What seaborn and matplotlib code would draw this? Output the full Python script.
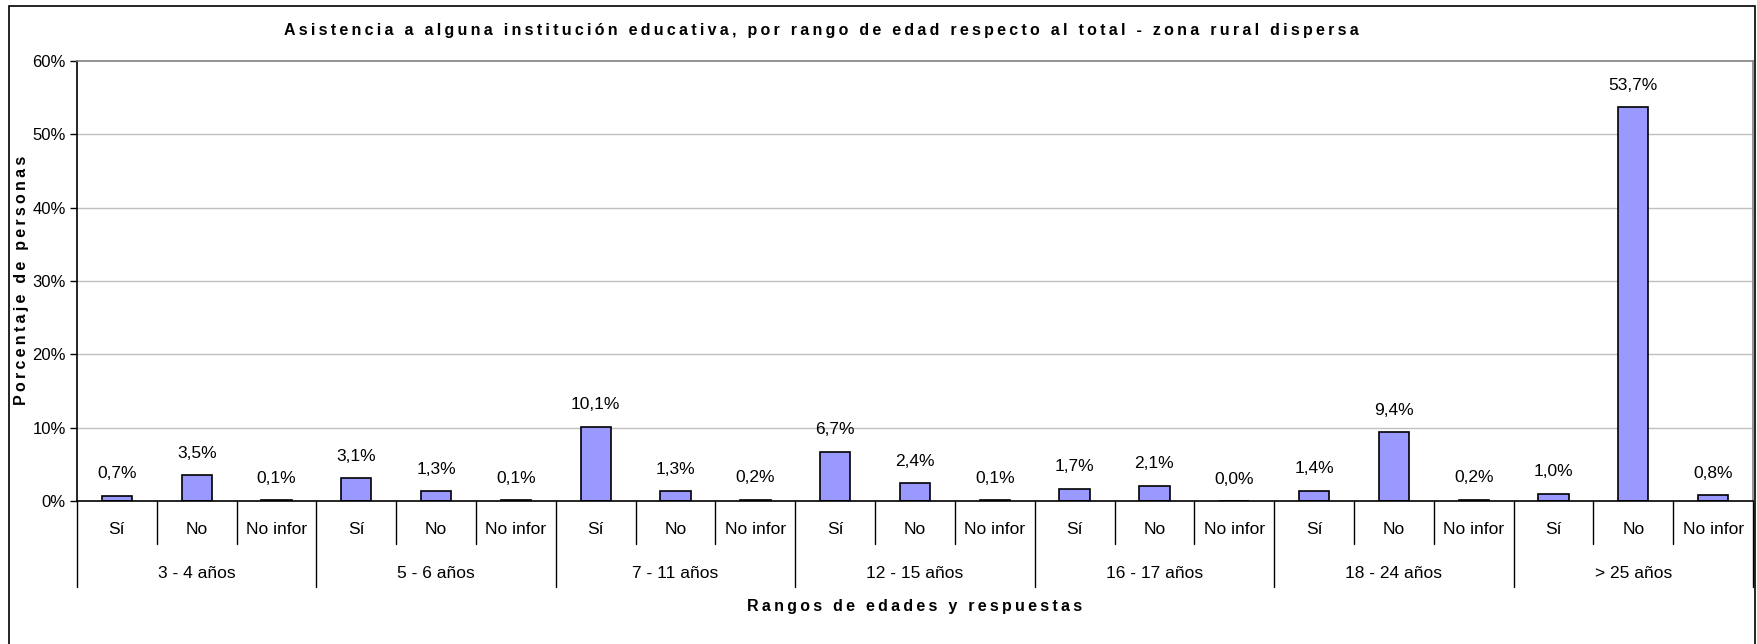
import matplotlib
matplotlib.use("Agg")
import matplotlib.pyplot as plt
import matplotlib.transforms as mtransforms
from matplotlib.patches import Rectangle
from matplotlib.ticker import FuncFormatter
import seaborn as sns
import pandas as pd

# data
groups = ["3 - 4 años", "5 - 6 años", "7 - 11 años", "12 - 15 años",
          "16 - 17 años", "18 - 24 años", "> 25 años"]
answers = ["Sí", "No", "No infor"]
values = [0.7, 3.5, 0.1,
          3.1, 1.3, 0.1,
          10.1, 1.3, 0.2,
          6.7, 2.4, 0.1,
          1.7, 2.1, 0.0,
          1.4, 9.4, 0.2,
          1.0, 53.7, 0.8]

rows = []
for gi, g in enumerate(groups):
    for ai, a in enumerate(answers):
        rows.append({"grupo": g, "respuesta": a, "key": f"{g}|{a}",
                     "pct": values[gi * 3 + ai]})
df = pd.DataFrame(rows)


def spaced(s, sep="\u2009"):
    # rough imitation of Excel's letter spacing
    return sep.join(s)


sns.set_theme(style="white")
plt.rcParams["font.family"] = ["Liberation Sans", "DejaVu Sans"]

fig = plt.figure(figsize=(17.58, 6.44), dpi=100)
W, H = 1758, 644
ax = fig.add_axes([77 / W, 1 - 501 / H, (1753 - 77) / W, (501 - 61) / H])

sns.barplot(data=df, x="key", y="pct", order=list(df["key"]), color="#9999FF",
            saturation=1, width=0.38, edgecolor="black", linewidth=1.2, ax=ax)

ax.set_ylim(0, 60)
ax.set_xlim(-0.5, len(values) - 0.5)
ax.set_yticks(range(0, 61, 10))
ax.yaxis.set_major_formatter(FuncFormatter(lambda v, p: f"{int(v)}%"))
ax.tick_params(axis="y", which="major", left=True, length=5, width=1,
               color="black", labelsize=12, pad=3, labelcolor="black")
ax.set_xticks([])
ax.set_xlabel("")
ax.set_ylabel("")
for y in range(10, 60, 10):
    ax.axhline(y, color="#c0c0c0", linewidth=1, zorder=0)
for side in ["top", "right"]:
    ax.spines[side].set_color("#808080")
    ax.spines[side].set_linewidth(1.2)
for side in ["left", "bottom"]:
    ax.spines[side].set_color("black")
    ax.spines[side].set_linewidth(1.2)

# value labels
for i, v in enumerate(values):
    ax.text(i, v + 3.0, f"{v:.1f}%".replace(".", ","), ha="center", va="center",
            fontsize=12.5, color="black")

# category axis with two levels
trans = mtransforms.blended_transform_factory(ax.transData, ax.transAxes)
axh = 440.0
for k in range(len(values) + 1):
    length = 86 if k % 3 == 0 else 43
    ax.plot([k - 0.5, k - 0.5], [0, -length / axh], transform=trans,
            color="black", linewidth=1, clip_on=False)
for i, a in enumerate(df["respuesta"]):
    ax.text(i, -29 / axh, a, transform=trans, ha="center", va="center",
            fontsize=12.5, color="black")
for gi, g in enumerate(groups):
    ax.text(gi * 3 + 1, -72 / axh, g, transform=trans, ha="center", va="center",
            fontsize=12.5, color="black")

ax.text(0.5, -106 / axh, spaced("Rangos de edades y respuestas"),
        transform=ax.transAxes, ha="center", va="center", fontsize=11.5,
        fontweight="bold", color="black")
fig.text(22 / W, 1 - 280 / H, spaced("Porcentaje de personas"), rotation=90,
         ha="center", va="center", fontsize=11.5, fontweight="bold", color="black")
fig.text(821 / W, 1 - 31 / H,
         spaced("Asistencia a alguna institución educativa, por rango de edad respecto al total - zona rural dispersa"),
         ha="center", va="center", fontsize=11.5, fontweight="bold", color="black")

# outer chart frame
fig.patches.append(Rectangle((9 / W, -0.01), (1755 - 9) / W, 1.01 - 6 / H,
                             transform=fig.transFigure, fill=False,
                             edgecolor="black", linewidth=1.2))

fig.savefig("out.png", dpi=100, facecolor="white")
